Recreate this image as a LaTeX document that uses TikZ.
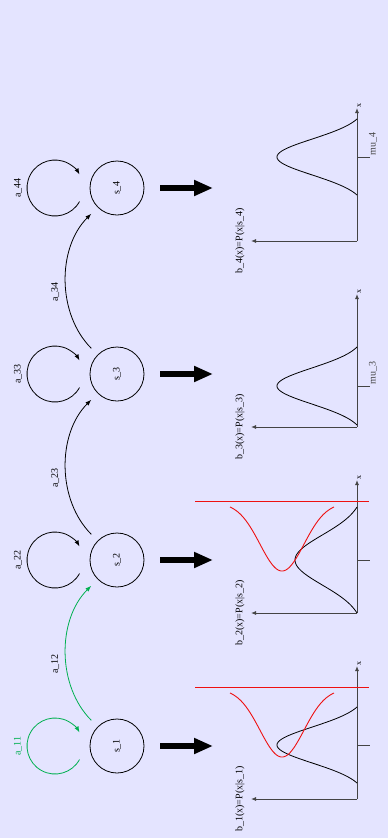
\documentclass[tikz,border=0pt]{standalone}
\usepackage{fontspec}
\setmainfont{Liberation Serif}
\usepackage{xcolor}
\definecolor{lavender50}{HTML}{E4E4FF}
\definecolor{green600}{RGB}{0,176,80}
\definecolor{red600}{HTML}{EE1111}
\definecolor{gray700}{HTML}{444444}
\usepackage{tikz}
\usetikzlibrary{arrows.meta, positioning, calc}

\begin{document}
\begin{tikzpicture}[
        x=1pt, y=1pt,
        hmmstate/.style={draw, circle, line width=0.8pt, minimum size=54pt, inner sep=0pt},
        selfloop/.style={line width=0.8pt, -{Latex[length=6pt, width=4.5pt]}},
        transition/.style={line width=0.8pt, -{Latex[length=6pt, width=4.5pt]}, shorten <=9pt, shorten >=9pt},
        emit/.style={line width=6pt, -{Triangle[length=19pt, width=15pt]}, shorten <=16pt},
        axisline/.style={line width=0.9pt, draw=gray700, -{Latex[length=5pt, width=4pt]}},
        density/.style={line width=0.8pt},
        refline/.style={draw=red600, line width=0.9pt},
        label/.style={font=\fontsize{10}{12}\selectfont, rotate=90, inner sep=1pt}
    ]
        % Background
        \fill[lavender50] (0,0) rectangle (388,-838);
        \useasboundingbox (0,0) rectangle (388,-838);

        % States and self loops
        \foreach \i in {1,...,4} {
            \pgfmathsetmacro{\sy}{-746+186*(\i-1)}
            \node[hmmstate] (s\i) at (117,\sy) {};
            \node[label] at (s\i) {s\_\i};
            \coordinate (l\i) at (55,\sy);
            \coordinate (e\i) at (213,\sy);
            \draw[emit] (s\i.east) -- (e\i);
        }
        \draw[selfloop, draw=green600, fill=none] ([shift={(-29:28)}]l1) arc[start angle=-29, end angle=-331, radius=28];
        \node[label, text=green600] at (18,-746) {a\_11};
        \foreach \i in {2,3,4} {
            \draw[selfloop] ([shift={(-29:28)}]l\i) arc[start angle=-29, end angle=-331, radius=28];
            \node[label] at ([xshift=-37pt]l\i) {a\_\i\i};
        }

        % Transitions
        \draw[transition, draw=green600] (s1.135) to[bend left=45] node[label, left=12pt] {a\_12} (s2.225);
        \draw[transition] (s2.135) to[bend left=45] node[label, left=12pt] {a\_23} (s3.225);
        \draw[transition] (s3.135) to[bend left=45] node[label, left=12pt] {a\_34} (s4.225);

        % Output densities
        \foreach \i/\oy/\c/\w/\sg/\h/\mu in {1/-799/54/38/18/80/, 2/-613/53/53/25/62/, 3/-427/41/39/18/80/mu\_3, 4/-241/84/38/18/80/mu\_4} {
            \coordinate (p\i) at (357,\oy);
            \pgfmathsetmacro{\eo}{exp(-(\w*\w)/(2*\sg*\sg))}
            \draw[axisline] (p\i) -- ++(0,133) node[label, font=\fontsize{8}{9}\selectfont, anchor=north west, inner sep=0pt] {x};
            \draw[axisline] (p\i) -- ++(-106,0);
            \draw[line width=0.9pt, gray700] ($(p\i)+(0,\c)$) -- ++(13,0) node[label, right=3pt] {\mu};
            \draw[density] plot[domain=-\w:\w, samples=70, smooth] ({357-\h*(exp(-(\x*\x)/(2*\sg*\sg))-\eo)/(1-\eo)}, {\oy+\c+\x});
            \node[label] at ($(p\i)+(-117,0)$) {b\_\i(x)=P(x|s\_\i)};
        }

        % Red reference curves
        \pgfmathsetmacro{\ro}{exp(-(52*52)/(2*22*22))}
        \foreach \i in {1,2} {
            \coordinate (r\i) at ($(p\i)+(0,112)$);
            \draw[refline] ([xshift=-162pt]r\i) -- ([xshift=12pt]r\i);
            \draw[refline] plot[domain=-52:52, samples=70, smooth] ({282+\x}, {-799+186*(\i-1)+106-64*(exp(-(\x*\x)/(2*22*22))-\ro)/(1-\ro)});
        }
    \end{tikzpicture}
\end{document}
